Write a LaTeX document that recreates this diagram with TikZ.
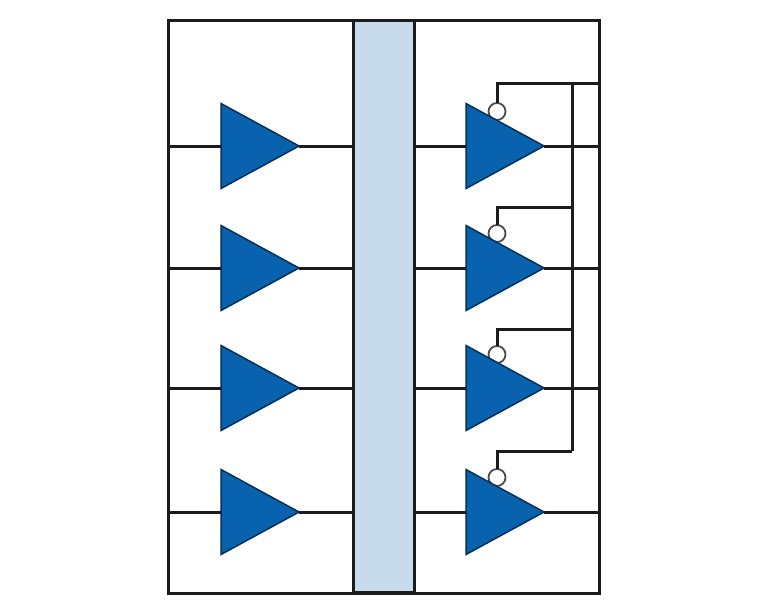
\documentclass[tikz,border=0pt]{standalone}
\usepackage{tikz}
\usetikzlibrary{shapes.geometric}
\definecolor{ampblue}{HTML}{0862AE}
\definecolor{barblue}{HTML}{C8DBEA}
\definecolor{wirecol}{HTML}{1C1C1C}
\tikzset{
wire/.style = {color=wirecol, line width=3pt},
amp/.style = {isosceles triangle, isosceles triangle stretches, shape border rotate=0, anchor=lower side, minimum width=85pt, minimum height=78pt, inner sep=0pt, outer sep=0pt, fill=ampblue, draw=ampblue!50!black, line width=1.5pt},
bubble/.style = {circle, minimum size=17pt, inner sep=0pt, outer sep=0pt, fill=white, draw=black!70, line width=1.8pt}
}
\begin{document}
\begin{tikzpicture}[x=1pt, y=-1pt]
\useasboundingbox (0,0) rectangle (768,614);
\node [wire, draw, fill=white, inner sep=0pt, outer sep=0pt, minimum width=431pt, minimum height=573pt] (board) at (383.5,306.5) {};
\node [wire, draw, fill=barblue, inner sep=0pt, outer sep=0pt, minimum width=61pt, minimum height=572pt] (bar) at (383.5,306) {};
\foreach \n/\y/\e/\c in {1/146/83/111.5, 2/268/207/233.5, 3/388/329/354.5, 4/512/451/477.5} {
\node [bubble] (en\n) at (497,\c) {};
\node [amp] (ampL\n) at (221,\y) {};
\node [amp] (ampR\n) at (466,\y) {};
\coordinate (corner\n) at (497,\e);
\coordinate (tap\n) at (572,\e);
\draw [wire] (board.west |- ampL\n.lower side) -- (ampL\n.lower side);
\draw [wire] (ampL\n.apex) -- (bar.west |- ampL\n.apex);
\draw [wire] (bar.east |- ampR\n.lower side) -- (ampR\n.lower side);
\draw [wire] (ampR\n.apex) -- (board.east |- ampR\n.apex);
\draw [wire] (en\n.north) -- (corner\n) -- (tap\n);
}
\draw [wire] (tap1) -- (tap4);
\draw [wire] (tap1) -- (board.east |- tap1);
\end{tikzpicture}
\end{document}
